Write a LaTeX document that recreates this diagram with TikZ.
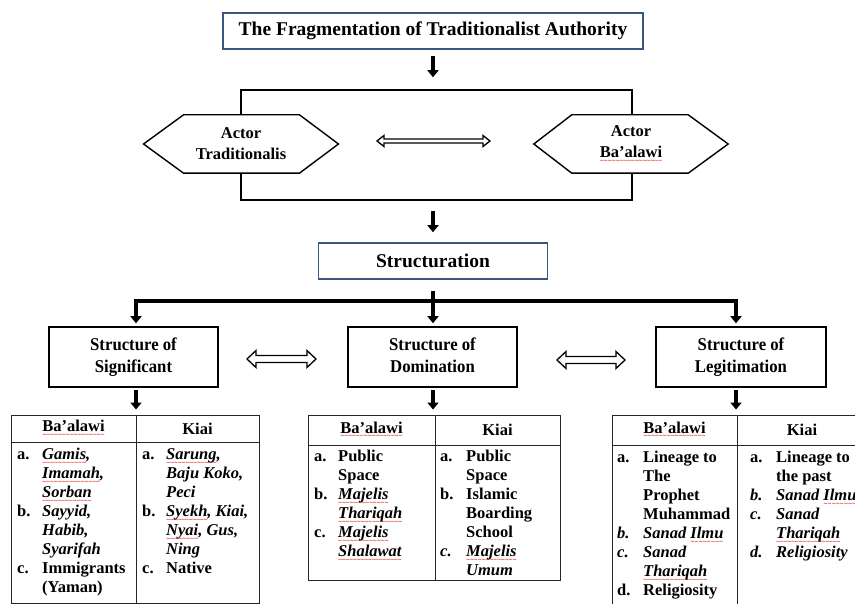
\documentclass[tikz,border=0pt]{standalone}
\usepackage{fontspec}
\setmainfont{Liberation Serif}
\newfontfamily\condfont[FakeStretch=0.93]{Liberation Serif}
\newfontfamily\wavefam{DejaVu Sans}
\usetikzlibrary{arrows.meta}
\definecolor{boxblue}{RGB}{56,87,128}
\definecolor{wavered}{RGB}{225,40,40}
\newcommand\sq[1]{\setbox0=\hbox{#1}\rlap{\textcolor{wavered}{\lower4.5pt\hbox to \wd0{\wavefam\fontsize{5.5}{5.5}\selectfont\xleaders\hbox{\kern-0.45pt∼\kern-0.45pt}\hfil}}}\box0}
\newcommand\listfont{\fontsize{16.5}{19}\selectfont\bfseries}
\newcommand\hollowdbl[6]{%
 \draw[hollowarr] ({#1-#3},#2) -- ({#1-#3+#6},{#2-#5}) -- ({#1-#3+#6},{#2-#4}) -- ({#1+#3-#6},{#2-#4}) -- ({#1+#3-#6},{#2-#5}) -- ({#1+#3},#2) -- ({#1+#3-#6},{#2+#5}) -- ({#1+#3-#6},{#2+#4}) -- ({#1-#3+#6},{#2+#4}) -- ({#1-#3+#6},{#2+#5}) -- cycle;}
\pgfdeclarelayer{bg}
\pgfsetlayers{bg,main}
\begin{document}
\begin{tikzpicture}[x=1pt,y=-1pt,
  bigarrow/.style={line width=4pt,-{Triangle[width=11pt,length=7pt]}},
  barline/.style={line width=4pt,line join=miter},
  hollowarr/.style={line width=1.3pt,line join=miter,fill=white},
  bluebox/.style={draw=boxblue,line width=1.5pt,inner sep=0pt,font=\fontsize{19.5}{22}\selectfont\bfseries},
  hexline/.style={draw=black,line width=1.4pt,fill=white,line join=miter},
  hextext/.style={inner sep=0pt,align=center,font=\fontsize{16.5}{21}\selectfont\bfseries},
  structbox/.style={draw,line width=1.5pt,inner sep=0pt,minimum height=60pt,align=center,font=\condfont\fontsize{18}{22}\selectfont\bfseries},
  cell/.style={draw=black!85,line width=0.9pt,inner sep=0pt,font=\listfont},
  listnode/.style={anchor=north west,inner sep=0pt,font=\listfont}]
\useasboundingbox (0,0) rectangle (855,604);
\clip (0,0) rectangle (855,604);

% title
\node[bluebox,minimum width=420pt,minimum height=36pt] (title) at (433,31) {The Fragmentation of Traditionalist Authority};

% actors
\node[hextext,minimum width=194.5pt,minimum height=58pt] (actL) at (241,144) {Actor\\Traditionalis};
\node[hextext,minimum width=194pt,minimum height=58pt] (actR) at (631,144) {Actor\\\sq{Ba’alawi}};
\begin{pgfonlayer}{bg}
  \node[draw,line width=1.5pt,minimum width=391pt,minimum height=110pt] (frame) at (436.5,145) {};
  \draw[hexline] (actL.west) -- ([xshift=40pt]actL.north west) -- ([xshift=-39pt]actL.north east) -- (actL.east) -- ([xshift=-39pt]actL.south east) -- ([xshift=40pt]actL.south west) -- cycle;
  \draw[hexline] (actR.west) -- ([xshift=38pt]actR.north west) -- ([xshift=-40pt]actR.north east) -- (actR.east) -- ([xshift=-40pt]actR.south east) -- ([xshift=38pt]actR.south west) -- cycle;
\end{pgfonlayer}
\hollowdbl{433.5}{141}{56.5}{2}{5.5}{7}

\draw[bigarrow,shorten <=6pt,shorten >=12pt] (title.south) -- (title.south |- frame.north);

% structuration
\node[bluebox,minimum width=229pt,minimum height=36pt] (struct) at (433,261) {Structuration};
\draw[bigarrow,shorten <=10pt,shorten >=10pt] (struct.north |- frame.south) -- (struct.north);

% structures
\node[structbox,minimum width=169pt] (s1) at (133.5,357) {Structure of\\Significant};
\node[structbox,minimum width=169pt] (s2) at (432.5,357) {Structure of\\Domination\vphantom{g}};
\node[structbox,minimum width=170pt] (s3) at (741,357) {Structure of\\Legitimation};
\hollowdbl{281.5}{359}{34.5}{3.5}{8.5}{9}
\hollowdbl{591}{360}{34}{3.5}{8.5}{9}

\coordinate (bl) at (136,301);
\coordinate (bm) at (433,301);
\coordinate (br) at (736,301);
\draw[bigarrow,shorten <=11pt,shorten >=3pt] (struct.south -| bm) -- (bm |- s2.north);
\draw[barline,{Triangle[width=11pt,length=7pt]}-{Triangle[width=11pt,length=7pt]},shorten <=3pt,shorten >=3pt] (bl |- s1.north) -- (bl) -- (br) -- (br |- s3.north);

% table 1
\node[cell,minimum width=125pt,minimum height=27pt] (t1h1) at (73.5,428.5) {\sq{Ba’alawi}};
\node[cell,minimum width=123pt,minimum height=27pt] (t1h2) at (197.5,428.5) {Kiai};
\node[cell,minimum width=125pt,minimum height=161pt] (t1b1) at (73.5,522.5) {};
\node[cell,minimum width=123pt,minimum height=161pt] (t1b2) at (197.5,522.5) {};
\node[listnode] (t1l) at (17,446) {\begin{tabular}{@{}p{25pt}@{}l@{}}
a. & {\itshape\sq{Gamis},}\\
   & {\itshape\sq{Imamah},}\\
   & {\itshape\sq{Sorban}}\\
b. & {\itshape Sayyid,}\\
   & {\itshape Habib,}\\
   & {\itshape Syarifah}\\
c. & Immigrants\\
   & (Yaman)
\end{tabular}};
\node[listnode] (t1r) at (142,446) {\begin{tabular}{@{}p{24pt}@{}l@{}}
a. & {\itshape\sq{Sarung},}\\
   & {\itshape Baju Koko,}\\
   & {\itshape Peci}\\
b. & {\itshape\sq{Syekh}, Kiai,}\\
   & {\itshape\sq{Nyai}, Gus,}\\
   & {\itshape Ning}\\
c. & Native
\end{tabular}};

% table 2
\node[cell,minimum width=127pt,minimum height=30pt] (t2h1) at (371.5,430) {\sq{Ba’alawi}};
\node[cell,minimum width=125pt,minimum height=30pt] (t2h2) at (497.5,430) {Kiai};
\node[cell,minimum width=127pt,minimum height=135pt] (t2b1) at (371.5,512.5) {};
\node[cell,minimum width=125pt,minimum height=135pt] (t2b2) at (497.5,512.5) {};
\node[listnode] (t2l) at (314,448) {\begin{tabular}{@{}p{24pt}@{}l@{}}
a. & Public\\
   & Space\\
b. & {\itshape\sq{Majelis}}\\
   & {\itshape\sq{Thariqah}}\\
c. & {\itshape\sq{Majelis}}\\
   & {\itshape\sq{Shalawat}}
\end{tabular}};
\node[listnode] (t2r) at (440,448) {\begin{tabular}{@{}p{26pt}@{}l@{}}
a. & Public\\
   & Space\\
b. & Islamic\\
   & Boarding\\
   & School\\
{\itshape c.} & {\itshape\sq{Majelis}}\\
   & {\itshape Umum}
\end{tabular}};

% table 3
\node[cell,minimum width=125pt,minimum height=30pt] (t3h1) at (674.5,430) {\sq{Ba’alawi}};
\node[cell,minimum width=130pt,minimum height=30pt] (t3h2) at (802,430) {Kiai};
\node[cell,minimum width=125pt,minimum height=170pt] (t3b1) at (674.5,530) {};
\node[cell,minimum width=130pt,minimum height=170pt] (t3b2) at (802,530) {};
\node[listnode] (t3l) at (617,449) {\begin{tabular}{@{}p{26pt}@{}l@{}}
a. & Lineage to\\
   & The\\
   & Prophet\\
   & Muhammad\\
{\itshape b.} & {\itshape Sanad \sq{Ilmu}}\\
{\itshape c.} & {\itshape Sanad}\\
   & {\itshape\sq{Thariqah}}\\
d. & Religiosity
\end{tabular}};
\node[listnode] (t3r) at (750,449) {\begin{tabular}{@{}p{26pt}@{}l@{}}
a. & Lineage to\\
   & the past\\
{\itshape b.} & {\itshape Sanad \sq{Ilmu}}\\
{\itshape c.} & {\itshape Sanad}\\
   & {\itshape\sq{Thariqah}}\\
{\itshape d.} & {\itshape Religiosity}
\end{tabular}};

% arrows to tables
\draw[bigarrow,shorten <=2pt,shorten >=5pt] (bl |- s1.south) -- (bl |- t1h1.north);
\draw[bigarrow,shorten <=2pt,shorten >=5pt] (bm |- s2.south) -- (bm |- t2h1.north);
\draw[bigarrow,shorten <=2pt,shorten >=5pt] (br |- s3.south) -- (br |- t3h1.north);
\end{tikzpicture}
\end{document}
